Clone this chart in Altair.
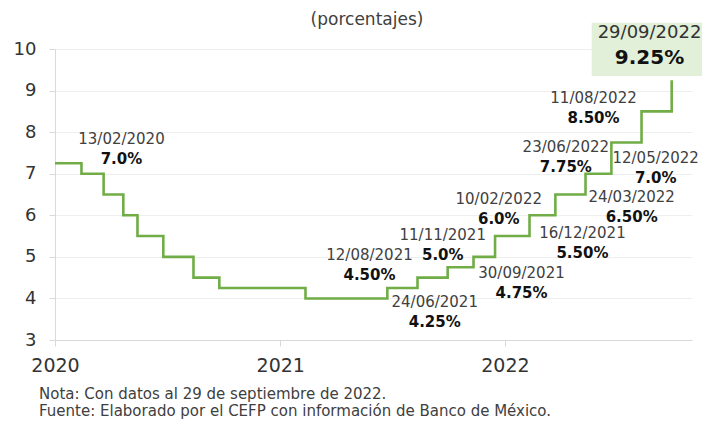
import altair as alt
import pandas as pd

# Step series: policy rate changes
dates = ["2020-01-01", "2020-02-13", "2020-03-20", "2020-04-21", "2020-05-14",
         "2020-06-25", "2020-08-13", "2020-09-24", "2021-02-11", "2021-06-24",
         "2021-08-12", "2021-09-30", "2021-11-11", "2021-12-16", "2022-02-10",
         "2022-03-24", "2022-05-12", "2022-06-23", "2022-08-11", "2022-09-29"]
rates = [7.25, 7.0, 6.5, 6.0, 5.5, 5.0, 4.5, 4.25, 4.0, 4.25,
         4.5, 4.75, 5.0, 5.5, 6.0, 6.5, 7.0, 7.75, 8.5, 9.25]

# Annotations (text and anchor in data units)
label_dates = ["13/02/2020", "24/06/2021", "12/08/2021", "30/09/2021", "11/11/2021",
               "16/12/2021", "10/02/2022", "24/03/2022", "12/05/2022", "23/06/2022",
               "11/08/2022"]
label_pcts = ["7.0%", "4.25%", "4.50%", "4.75%", "5.0%", "5.50%", "6.0%", "6.50%",
              "7.0%", "7.75%", "8.50%"]
label_x = ["2020-04-18", "2021-09-09", "2021-05-26", "2022-01-28", "2021-09-22",
           "2022-05-07", "2021-12-22", "2022-07-26", "2022-09-03", "2022-04-10",
           "2022-05-25"]
label_y = [7.6, 3.67, 4.8, 4.37, 5.29, 5.33, 6.15, 6.19, 7.13, 7.40, 8.58]

last_date_text = "29/09/2022"
last_pct_text = "9.25%"
last_x = "2022-08-24"
last_y = 10.085
box_x = ["2022-05-22"]
box_x2 = ["2022-12-10"]
box_y = [9.35]
box_y2 = [10.63]

x_domain = ["2020-01-01", "2022-11-01"]
y_ticks = [3, 4, 5, 6, 7, 8, 9, 10]

title_text = "(porcentajes)"
note_lines = ["Nota: Con datos al 29 de septiembre de 2022.",
              "Fuente: Elaborado por el CEFP con información de Banco de México."]

FONT = "DejaVu Sans"
GREEN = "#70ad47"
TXT = "#404040"

df = pd.DataFrame({"date": pd.to_datetime(dates), "rate": rates})
lab = pd.DataFrame({"x": pd.to_datetime(label_x), "y": label_y,
                    "d": label_dates, "p": label_pcts})
last = pd.DataFrame({"x": pd.to_datetime([last_x]), "y": [last_y],
                     "d": [last_date_text], "p": [last_pct_text]})
box = pd.DataFrame({"x": pd.to_datetime(box_x), "x2": pd.to_datetime(box_x2),
                    "y": box_y, "y2": box_y2})

xscale = alt.Scale(domain=[pd.Timestamp(d).isoformat() for d in x_domain])
yscale = alt.Scale(domain=[3, 10], nice=False)

x_enc = alt.X("date:T", scale=xscale, title=None,
              axis=alt.Axis(values=[pd.Timestamp(f"{y}-01-01").isoformat() for y in (2020, 2021, 2022)],
                            format="%Y", labelFontSize=19, labelColor="#333333",
                            labelFont=FONT, domainColor="#d9d9d9", tickColor="#d9d9d9",
                            tickSize=6, grid=False, labelPadding=10, labelFlush=False))
y_enc = alt.Y("rate:Q", scale=yscale, title=None,
              axis=alt.Axis(values=y_ticks, labelFontSize=18, labelColor="#333333",
                            labelFont=FONT, domainColor="#d9d9d9", tickColor="#d9d9d9",
                            tickSize=6, gridColor="#eeeeee", labelPadding=13))

line = alt.Chart(df).mark_line(interpolate="step-after", color=GREEN, strokeWidth=2.6).encode(
    x=x_enc, y=y_enc)

boxes = alt.Chart(box).mark_rect(color="#e2efd9", clip=False).encode(
    x=alt.X("x:T", scale=xscale), x2="x2:T",
    y=alt.Y("y:Q", scale=yscale), y2="y2:Q")

date_txt = alt.Chart(lab).mark_text(font=FONT, fontSize=15, color=TXT, dy=-10,
                                    baseline="middle", align="center").encode(
    x=alt.X("x:T", scale=xscale), y=alt.Y("y:Q", scale=yscale), text="d:N")
pct_txt = alt.Chart(lab).mark_text(font=FONT, fontSize=15, fontWeight="bold", color="#111111",
                                   dy=10, baseline="middle", align="center").encode(
    x=alt.X("x:T", scale=xscale), y=alt.Y("y:Q", scale=yscale), text="p:N")

last_date = alt.Chart(last).mark_text(font=FONT, fontSize=18, color="#333333", dy=-12,
                                      baseline="middle", align="center").encode(
    x=alt.X("x:T", scale=xscale), y=alt.Y("y:Q", scale=yscale), text="d:N")
last_pct = alt.Chart(last).mark_text(font=FONT, fontSize=20, fontWeight="bold", color="#111111",
                                     dy=13, baseline="middle", align="center").encode(
    x=alt.X("x:T", scale=xscale), y=alt.Y("y:Q", scale=yscale), text="p:N")

title = alt.Chart(pd.DataFrame({"t": [title_text]})).mark_text(
    font=FONT, fontSize=17, color=TXT, align="center", baseline="middle").encode(
    x=alt.value(312), y=alt.value(-29), text="t:N")

note1 = alt.Chart(pd.DataFrame({"t": [note_lines[0]]})).mark_text(
    font=FONT, fontSize=15, color=TXT, align="left", baseline="middle").encode(
    x=alt.value(-16), y=alt.value(345), text="t:N")
note2 = alt.Chart(pd.DataFrame({"t": [note_lines[1]]})).mark_text(
    font=FONT, fontSize=15, color=TXT, align="left", baseline="middle").encode(
    x=alt.value(-16), y=alt.value(362), text="t:N")

chart = alt.layer(line, boxes, date_txt, pct_txt, last_date, last_pct, title, note1, note2).properties(
    width=637, height=291,
    autosize=alt.AutoSizeParams(type="none"),
    padding={"left": 47, "top": 41, "right": 10, "bottom": 81},
).configure_view(stroke=None)

chart.save("out.html", embed_options={"renderer": "svg", "actions": False})
